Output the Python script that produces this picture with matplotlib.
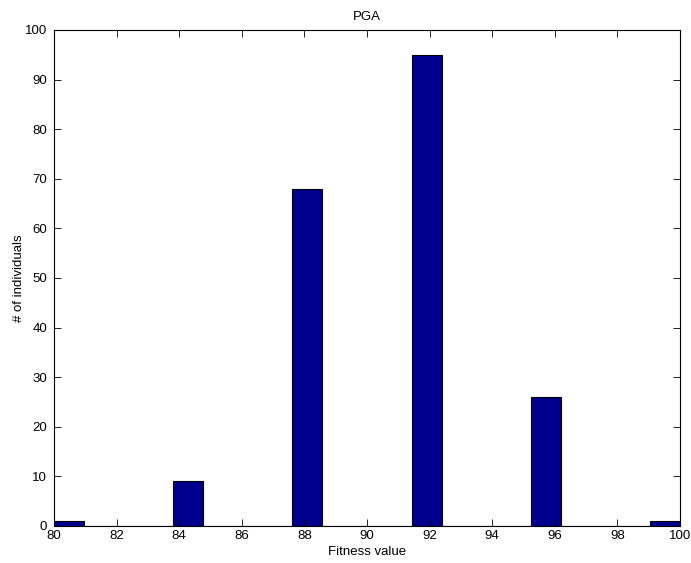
import matplotlib
matplotlib.use("Agg")
import matplotlib.pyplot as plt
import numpy as np

plt.rcParams['font.family'] = ['Liberation Sans', 'DejaVu Sans']

# histogram: 21 bins spanning 80..100
bin_start = 80.0
bin_end = 100.0
n_bins = 21
counts = [1, 0, 0, 0, 9, 0, 0, 0, 68, 0, 0, 0, 95, 0, 0, 0, 26, 0, 0, 0, 1]
x_ticks = [80, 82, 84, 86, 88, 90, 92, 94, 96, 98, 100]
y_ticks = [0, 10, 20, 30, 40, 50, 60, 70, 80, 90, 100]

edges = np.linspace(bin_start, bin_end, n_bins + 1)
width = edges[1] - edges[0]

fig = plt.figure(figsize=(6.91, 5.63), dpi=100)
ax = fig.add_axes([54/691, 37/563, 626/691, 496/563])

ax.bar(edges[:-1], counts, width=width, align='edge',
       color=(0, 0, 0.5625), edgecolor='black', linewidth=0.8)

ax.set_xlim(80, 100)
ax.set_ylim(0, 100)
ax.set_xticks(x_ticks)
ax.set_yticks(y_ticks)
ax.tick_params(direction='in', top=True, right=True, labelsize=9.5, length=5, width=0.6)
ax.tick_params(axis='x', pad=3)
ax.tick_params(axis='y', pad=5)
for s in ax.spines.values():
    s.set_linewidth(0.8)

ax.set_title('PGA', fontsize=9.5, pad=7)
ax.set_xlabel('Fitness value', fontsize=9.5, labelpad=3)
ax.set_ylabel('# of individuals', fontsize=9.5, labelpad=0)

fig.savefig('out.png', dpi=100)
